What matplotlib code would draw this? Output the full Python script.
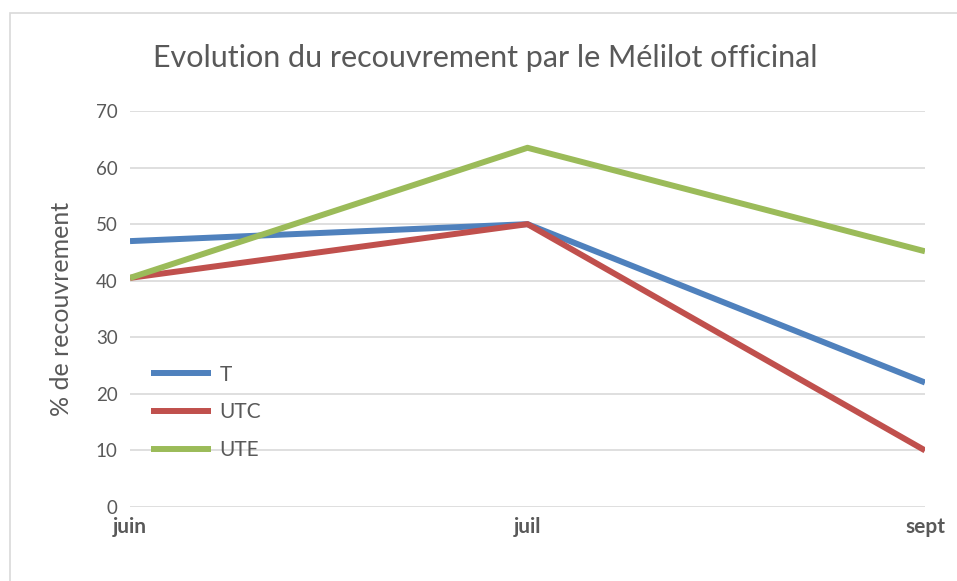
import matplotlib.pyplot as plt
from matplotlib.patches import Rectangle

# data
mois = ['juin', 'juil', 'sept']
recouvrement_T = [47, 50, 22]
recouvrement_UTC = [40.5, 50, 10]
recouvrement_UTE = [40.5, 63.5, 45.2]

series = [
    ('T', recouvrement_T, '#4F81BD'),
    ('UTC', recouvrement_UTC, '#C0504D'),
    ('UTE', recouvrement_UTE, '#9BBB59'),
]

plt.rcParams['font.family'] = ['Lato', 'DejaVu Sans']
gris = '#595959'

fig = plt.figure(figsize=(9.57, 5.81), dpi=100)
ax = fig.add_axes([130 / 957, 1 - 507 / 581, 795 / 957, 396 / 581])

# chart border like Excel
fig.patches.append(Rectangle((10 / 957, -0.1), 1.2, 1 - 13 / 581 + 0.1, transform=fig.transFigure,
                             fill=False, edgecolor='#D9D9D9', linewidth=1.2))

x = list(range(len(mois)))
for nom, vals, couleur in series:
    ax.plot(x, vals, color=couleur, linewidth=4.3, label=nom, solid_capstyle='butt')

ax.set_xlim(0, 2)
ax.set_ylim(0, 70)
ax.set_yticks(range(0, 71, 10))
ax.set_xticks(x)
ax.set_xticklabels(mois, fontweight='bold')
ax.grid(axis='y', color='#D9D9D9', linewidth=1.2)
ax.set_axisbelow(True)
for s in ax.spines.values():
    s.set_visible(False)
ax.tick_params(length=0, colors=gris, labelsize=13.5)
ax.tick_params(axis='x', pad=7, labelsize=15)
ax.tick_params(axis='y', pad=9)
# nudge the y tick labels up a little so "0" clears "juin", as in Excel
for lab in ax.get_yticklabels():
    lab.set_verticalalignment('center_baseline')

ax.set_ylabel('% de recouvrement', fontsize=18, color=gris, labelpad=16)
fig.text(485 / 957, 1 - 58 / 581, 'Evolution du recouvrement par le Mélilot officinal',
         ha='center', va='center', fontsize=22, color=gris)

leg = ax.legend(loc='upper left', bbox_to_anchor=(132 / 957, 1 - 346 / 581),
                bbox_transform=fig.transFigure, frameon=False, fontsize=15,
                handlelength=2.9, handletextpad=0.4, labelspacing=0.85)
for t in leg.get_texts():
    t.set_color(gris)

fig.savefig('out.png', dpi=100)
